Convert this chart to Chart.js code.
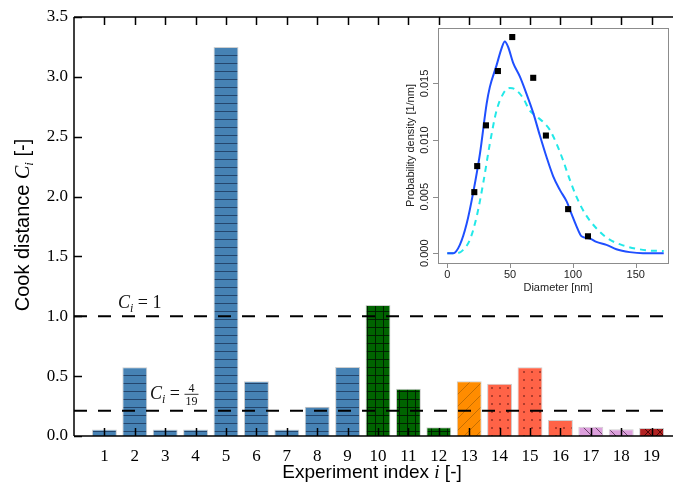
<!DOCTYPE html>
<html>
<head>
<meta charset="utf-8">
<script src="https://cdn.jsdelivr.net/npm/chart.js@4"></script>
<style>
html, body { margin: 0; padding: 0; background: #fff; overflow: hidden; }
#wrap { position: relative; width: 673px; height: 493px; overflow: hidden; }
#main { position: absolute; left: 0; top: 0; width: 682px; height: 493px; }
#inset { position: absolute; left: 390px; top: 18px; width: 285px; height: 285px; }
</style>
</head>
<body>
<div id="wrap">
  <div id="main"><canvas id="c1"></canvas></div>
  <div id="inset"><canvas id="c2"></canvas></div>
</div>
<script>
// main panel: Cook distance per experiment
const experiments = [1, 2, 3, 4, 5, 6, 7, 8, 9, 10, 11, 12, 13, 14, 15, 16, 17, 18, 19];
const cookDistance = [0.055, 0.575, 0.055, 0.055, 3.25, 0.457, 0.055, 0.245, 0.576, 1.094,
  0.395, 0.073, 0.457, 0.437, 0.574, 0.134, 0.078, 0.056, 0.067];
const groupOf = ["A", "A", "A", "A", "A", "A", "A", "A", "A", "B", "B", "B", "C", "D", "D", "D", "E", "E", "F"];
const thresholds = [1, 4 / 19];
const yTicks = [0, 0.5, 1, 1.5, 2, 2.5, 3, 3.5];

// inset: particle size distribution
const measDiam = [21.5, 23.8, 30.8, 40.3, 51.7, 68.4, 78.5, 96.2, 112];
const measDens = [0.0054, 0.0077, 0.0113, 0.0161, 0.0191, 0.0155, 0.0104, 0.0039, 0.0015];
const kdeDiam = [0, 4.8, 10, 15.4, 20.7, 26, 31.3, 33.9, 39.2, 43.2, 45.8, 48.5, 52.5, 57.8, 63,
  68.4, 73.7, 79, 84.3, 89.6, 94.9, 98.8, 102.8, 106.8, 113.4, 118.7, 126.7, 134.6, 145.2, 155.8, 172.3];
const kdeDens = [0, 0, 0.00074, 0.0026, 0.0054, 0.0088, 0.0132, 0.0147, 0.0166, 0.0181, 0.0187,
  0.0182, 0.0168, 0.0156, 0.0141, 0.0124, 0.0104, 0.0085, 0.0068, 0.0056, 0.0046, 0.0035, 0.0024,
  0.0015, 0.0013, 0.0010, 0.00074, 0.00035, 0.0001, 0, 0];
const fitDiam = [0, 7.4, 12.7, 18, 23.3, 28.6, 33.9, 39.2, 44.5, 49.8, 53.8, 60.4, 65.7, 71, 76.3,
  81.6, 86.9, 92.2, 97.5, 102.8, 108.1, 113.4, 121.4, 129.3, 139.9, 150.5, 161.1, 172.3];
const fitDens = [0, 0, 0.0003, 0.0012, 0.0032, 0.0062, 0.0097, 0.0126, 0.0141, 0.0146, 0.0145,
  0.0137, 0.0126, 0.0121, 0.0116, 0.0109, 0.0097, 0.0082, 0.0065, 0.0050, 0.0038, 0.0029, 0.0019,
  0.0012, 0.0007, 0.0004, 0.00024, 0.0002];
const insetXTicks = [0, 50, 100, 150];
const insetYTicks = [0, 0.005, 0.01, 0.015];

const SERIF = '"Liberation Serif", "DejaVu Serif", serif';
const SANS = '"Liberation Sans", Arial, sans-serif';

function hatch(fill, kind, ink) {
  const n = kind === "/" || kind === "\\" || kind === "x" ? 12 : 8;
  const cv = document.createElement("canvas");
  cv.width = n; cv.height = n;
  const g = cv.getContext("2d");
  g.fillStyle = fill;
  g.fillRect(0, 0, n, n);
  g.strokeStyle = ink;
  g.fillStyle = ink;
  g.lineWidth = 1;
  g.beginPath();
  if (kind === "-" || kind === "+") { g.moveTo(0, n - 0.5); g.lineTo(n, n - 0.5); }
  if (kind === "+") { g.moveTo(n - 0.5, 0); g.lineTo(n - 0.5, n); }
  if (kind === "/" || kind === "x") { g.moveTo(0, n); g.lineTo(n, 0); }
  if (kind === "\\" || kind === "x") { g.moveTo(0, 0); g.lineTo(n, n); }
  g.stroke();
  if (kind === ".") { g.beginPath(); g.arc(4, 4, 1, 0, Math.PI * 2); g.fill(); }
  return g.createPattern(cv, "repeat");
}

const groupStyle = {
  A: hatch("#4682b4", "-", "rgba(25,50,85,0.75)"),
  B: hatch("#006400", "+", "rgba(0,25,0,0.9)"),
  C: hatch("#ff8c00", "/", "rgba(160,90,0,0.6)"),
  D: hatch("#ff6347", ".", "rgba(130,40,30,0.85)"),
  E: hatch("#dda0dd", "\\", "rgba(90,50,90,0.85)"),
  F: hatch("#b22222", "x", "rgba(60,0,0,0.85)"),
};

function drawRuns(ctx, parts, x, y, align) {
  let w = 0;
  parts.forEach(p => { ctx.font = p.f; p.w = ctx.measureText(p.t).width; w += p.w; });
  let cx = align === "center" ? x - w / 2 : x;
  ctx.textAlign = "left";
  ctx.textBaseline = "alphabetic";
  parts.forEach(p => { ctx.font = p.f; ctx.fillText(p.t, cx, y + (p.dy || 0)); cx += p.w; });
  return cx;
}

const mainDecor = {
  id: "mainDecor",
  afterDatasetsDraw(chart) {
    const { ctx, chartArea: a, scales: { x, y } } = chart;
    ctx.save();
    ctx.strokeStyle = "#000";
    ctx.lineWidth = 1.5;
    ctx.beginPath();
    ctx.moveTo(a.left, a.top); ctx.lineTo(a.left, a.bottom);
    ctx.moveTo(a.left, a.bottom); ctx.lineTo(a.right, a.bottom);
    ctx.moveTo(a.left, a.top); ctx.lineTo(a.right, a.top);
    experiments.forEach(v => {
      const px = Math.round(x.getPixelForValue(v)) + 0.5;
      ctx.moveTo(px, a.bottom); ctx.lineTo(px, a.bottom - 8);
      ctx.moveTo(px, a.top); ctx.lineTo(px, a.top + 8);
    });
    yTicks.forEach(v => {
      const py = Math.round(y.getPixelForValue(v)) + 0.5;
      ctx.moveTo(a.left, py); ctx.lineTo(a.left + 8, py);
    });
    ctx.stroke();

    ctx.fillStyle = "#111";
    const it = "italic 18px " + SERIF, sub = "italic 12px " + SERIF, rm = "18px " + SERIF;
    // C_i = 1
    drawRuns(ctx, [{ t: "C", f: it }, { t: "i", f: sub, dy: 4 }, { t: " = 1", f: rm }],
      118, y.getPixelForValue(thresholds[0]) - 8, "left");
    // C_i = 4/19
    const fy = y.getPixelForValue(thresholds[1]) - 17;
    const ex = drawRuns(ctx, [{ t: "C", f: it }, { t: "i", f: sub, dy: 4 }, { t: " = ", f: rm }],
      150, fy + 5, "left");
    ctx.font = "12px " + SERIF;
    ctx.textAlign = "center";
    const fc = ex + 7;
    ctx.fillText("4", fc, fy - 2);
    ctx.fillText("19", fc, fy + 11);
    ctx.lineWidth = 0.8;
    ctx.beginPath(); ctx.moveTo(fc - 7, fy + 0.5); ctx.lineTo(fc + 7, fy + 0.5); ctx.stroke();

    // axis titles
    ctx.fillStyle = "#000";
    const sans = "19px " + SANS;
    drawRuns(ctx, [{ t: "Experiment index ", f: sans }, { t: "i", f: "italic 19px " + SERIF }, { t: " [-]", f: sans }],
      372, 478, "center");
    const ys = "20px " + SANS;
    ctx.translate(29, 225);
    ctx.rotate(-Math.PI / 2);
    drawRuns(ctx, [{ t: "Cook distance ", f: ys }, { t: "C", f: "italic 20px " + SERIF },
      { t: "i", f: "italic 13px " + SERIF, dy: 4 }, { t: " [-]", f: ys }], 0, 0, "center");
    ctx.restore();
  }
};

new Chart(document.getElementById("c1"), {
  type: "bar",
  data: {
    datasets: [
      {
        type: "line",
        data: [{ x: 0, y: thresholds[0] }, { x: 20, y: thresholds[0] }],
        borderColor: "#000", borderWidth: 2, borderDash: [13, 11], pointRadius: 0, order: 1,
      },
      {
        type: "line",
        data: [{ x: 0, y: thresholds[1] }, { x: 20, y: thresholds[1] }],
        borderColor: "#000", borderWidth: 2, borderDash: [13, 11], pointRadius: 0, order: 1,
      },
      {
        data: experiments.map((e, i) => ({ x: e, y: cookDistance[i] })),
        backgroundColor: groupOf.map(g => groupStyle[g]),
        borderColor: "#cfcfcf",
        borderWidth: 1,
        categoryPercentage: 1,
        barPercentage: 0.82,
        order: 2,
      },
    ],
  },
  options: {
    responsive: true,
    maintainAspectRatio: false,
    animation: false,
    layout: { padding: { top: 17, left: 0, right: 0, bottom: 0 } },
    plugins: { legend: { display: false }, tooltip: { enabled: false } },
    scales: {
      x: {
        type: "linear", min: 0, max: 20, offset: false,
        grid: { display: false, offset: false, drawTicks: false }, border: { display: false },
        afterBuildTicks: s => { s.ticks = experiments.map(v => ({ value: v })); },
        afterFit: s => { s.height = 57; },
        ticks: { color: "#000", font: { family: SERIF, size: 17 }, padding: 10, maxRotation: 0, autoSkip: false },
      },
      y: {
        min: 0, max: 3.5,
        grid: { display: false, drawTicks: false }, border: { display: false },
        afterBuildTicks: s => { s.ticks = yTicks.map(v => ({ value: v })); },
        afterFit: s => { s.width = 74; },
        ticks: { color: "#000", font: { family: SERIF, size: 17 }, padding: 6, callback: v => v.toFixed(1) },
      },
    },
  },
  plugins: [mainDecor],
});

const insetDecor = {
  id: "insetDecor",
  beforeDatasetsDraw(chart) {
    const { ctx, chartArea: a } = chart;
    ctx.save();
    ctx.fillStyle = "#fff";
    ctx.fillRect(a.left, a.top, a.right - a.left, a.bottom - a.top);
    ctx.restore();
  },
  afterDraw(chart) {
    const { ctx, chartArea: a, scales: { x, y } } = chart;
    ctx.save();
    ctx.strokeStyle = "#8c8c8c";
    ctx.lineWidth = 1;
    ctx.strokeRect(Math.round(a.left) + 0.5, Math.round(a.top) + 0.5,
      Math.round(a.right - a.left), Math.round(a.bottom - a.top));
    ctx.beginPath();
    insetXTicks.forEach(v => {
      const px = Math.round(x.getPixelForValue(v)) + 0.5;
      ctx.moveTo(px, a.bottom); ctx.lineTo(px, a.bottom + 5);
    });
    insetYTicks.forEach(v => {
      const py = Math.round(y.getPixelForValue(v)) + 0.5;
      ctx.moveTo(a.left, py); ctx.lineTo(a.left - 5, py);
    });
    ctx.stroke();
    ctx.fillStyle = "#222";
    ctx.font = "11px " + SANS;
    ctx.textAlign = "center";
    ctx.textBaseline = "middle";
    insetYTicks.forEach(v => {
      ctx.save();
      ctx.translate(a.left - 13, y.getPixelForValue(v));
      ctx.rotate(-Math.PI / 2);
      ctx.fillText(v.toFixed(3), 0, 0);
      ctx.restore();
    });
    ctx.fillText("Diameter [nm]", (a.left + a.right) / 2 + 5, a.bottom + 25);
    ctx.translate(a.left - 27, (a.top + a.bottom) / 2);
    ctx.rotate(-Math.PI / 2);
    ctx.fillText("Probability density [1/nm]", 0, 0);
    ctx.restore();
  }
};

new Chart(document.getElementById("c2"), {
  type: "scatter",
  data: {
    datasets: [
      {
        data: measDiam.map((d, i) => ({ x: d, y: measDens[i] })),
        pointStyle: "rect", pointRadius: 4.3, backgroundColor: "#000", borderWidth: 0, order: 0,
      },
      {
        data: kdeDiam.map((d, i) => ({ x: d, y: kdeDens[i] })),
        showLine: true, pointRadius: 0, borderColor: "#1f4fff", borderWidth: 2,
        cubicInterpolationMode: "monotone", order: 1,
      },
      {
        data: fitDiam.map((d, i) => ({ x: d, y: fitDens[i] })),
        showLine: true, pointRadius: 0, borderColor: "#22e8e8", borderWidth: 2, borderDash: [6, 5],
        cubicInterpolationMode: "monotone", order: 2,
      },
    ],
  },
  options: {
    responsive: true,
    maintainAspectRatio: false,
    animation: false,
    layout: { padding: { top: 10, left: 0, right: 7, bottom: 0 } },
    plugins: { legend: { display: false }, tooltip: { enabled: false } },
    scales: {
      x: {
        type: "linear", min: -7.4, max: 175.7,
        grid: { display: false, drawTicks: false }, border: { display: false },
        afterBuildTicks: s => { s.ticks = insetXTicks.map(v => ({ value: v })); },
        afterFit: s => { s.height = 40; },
        ticks: { color: "#222", font: { family: SANS, size: 11 }, padding: 5, maxRotation: 0 },
      },
      y: {
        min: -0.00086, max: 0.0199,
        grid: { display: false, drawTicks: false }, border: { display: false },
        afterBuildTicks: s => { s.ticks = insetYTicks.map(v => ({ value: v })); },
        afterFit: s => { s.width = 48; },
        ticks: { display: false },
      },
    },
  },
  plugins: [insetDecor],
});
</script>
</body>
</html>
